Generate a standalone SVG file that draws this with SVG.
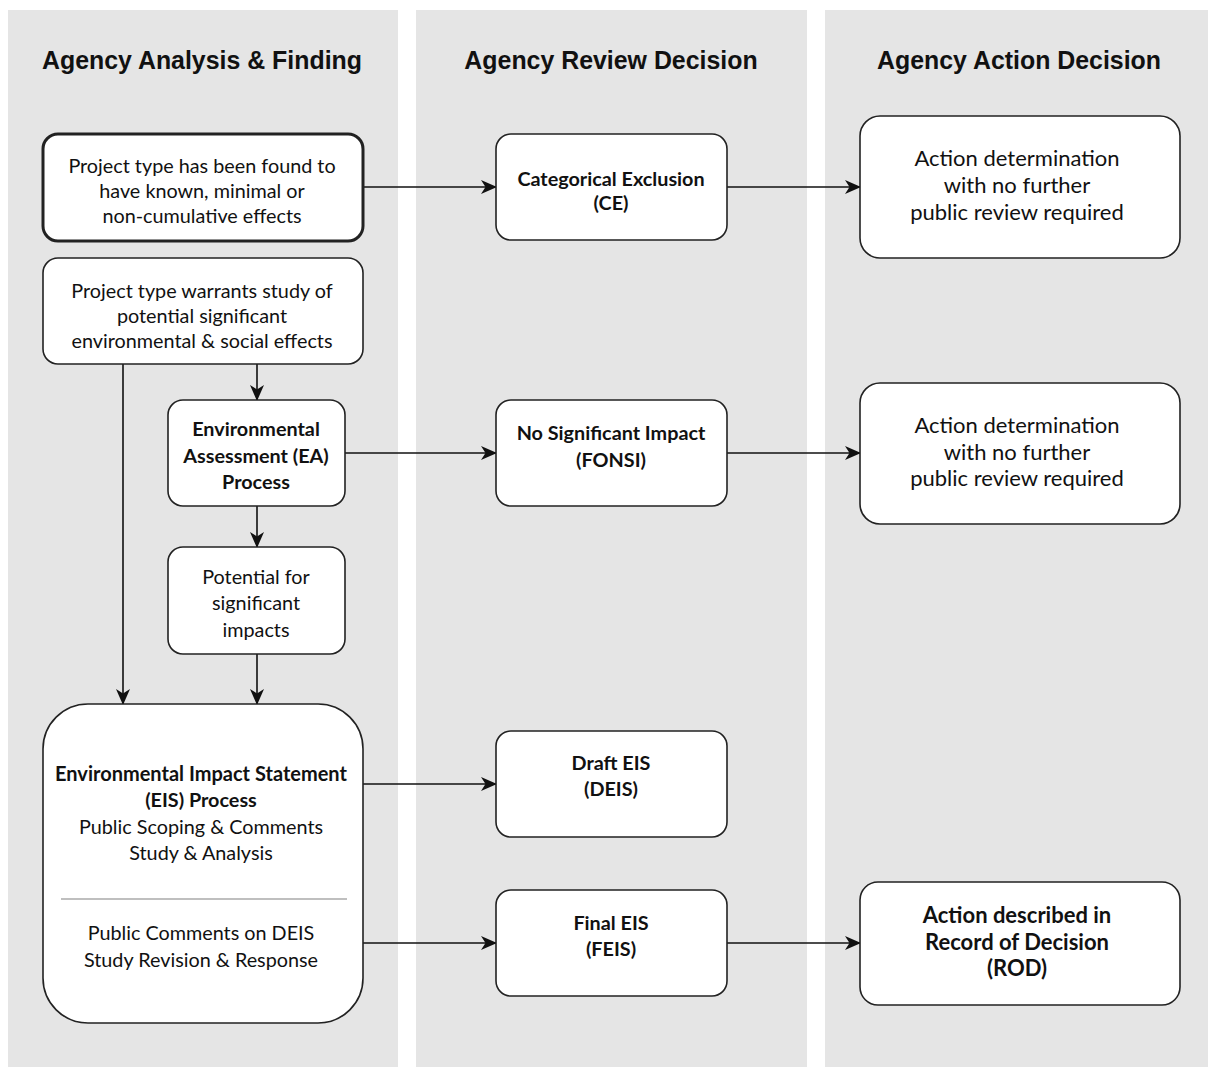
<svg xmlns="http://www.w3.org/2000/svg" width="1208" height="1067" viewBox="0 0 1208 1067">
<style>
.lane{fill:#e5e5e5;}
.hdr{font-family:"Liberation Sans",Arial,sans-serif;font-weight:bold;font-size:24.9px;fill:#111;text-anchor:middle;}
.box{fill:#fff;stroke:#222;stroke-width:1.6;}
.thick{stroke-width:3;}
.t{font-family:Lato,"Open Sans",sans-serif;font-size:19.8px;fill:#111;text-anchor:middle;dominant-baseline:central;}
.b{font-weight:bold;}
.big{font-size:22px;}
.con{stroke:#111;stroke-width:1.6;fill:none;}
</style>
<defs>
<marker id="ah" viewBox="0 0 16 14" refX="15" refY="7" markerWidth="16" markerHeight="14" markerUnits="userSpaceOnUse" orient="auto">
<path d="M0,0 L16,7 L0,14 L4.5,7 Z" fill="#111"/>
</marker>
</defs>
<rect width="1208" height="1067" fill="#fff"/>
<rect class="lane" x="8" y="10" width="390" height="1057"/>
<rect class="lane" x="416" y="10" width="391" height="1057"/>
<rect class="lane" x="825" y="10" width="383" height="1057"/>
<text class="hdr" x="202" y="69">Agency Analysis &amp; Finding</text>
<text class="hdr" x="611" y="69">Agency Review Decision</text>
<text class="hdr" x="1019" y="69">Agency Action Decision</text>

<g id="connectors">
<line class="con" x1="363" y1="187" x2="496" y2="187" marker-end="url(#ah)"/>
<line class="con" x1="727" y1="187" x2="860" y2="187" marker-end="url(#ah)"/>
<line class="con" x1="257" y1="364" x2="257" y2="400" marker-end="url(#ah)"/>
<line class="con" x1="123" y1="364" x2="123" y2="704" marker-end="url(#ah)"/>
<line class="con" x1="345" y1="453" x2="496" y2="453" marker-end="url(#ah)"/>
<line class="con" x1="727" y1="453" x2="860" y2="453" marker-end="url(#ah)"/>
<line class="con" x1="257" y1="506" x2="257" y2="547" marker-end="url(#ah)"/>
<line class="con" x1="257" y1="654" x2="257" y2="704" marker-end="url(#ah)"/>
<line class="con" x1="363" y1="784" x2="496" y2="784" marker-end="url(#ah)"/>
<line class="con" x1="363" y1="943" x2="496" y2="943" marker-end="url(#ah)"/>
<line class="con" x1="727" y1="943" x2="860" y2="943" marker-end="url(#ah)"/>
</g>

<g id="known-effects">
<rect class="box thick" x="43" y="134" width="320" height="107" rx="15"/>
<text class="t" x="202" y="165">Project type has been found to</text>
<text class="t" x="202" y="190">have known, minimal or</text>
<text class="t" x="202" y="215">non-cumulative effects</text>
</g>
<g id="warrants-study">
<rect class="box" x="43" y="258" width="320" height="106" rx="15"/>
<text class="t" x="202" y="290">Project type warrants study of</text>
<text class="t" x="202" y="315">potential significant</text>
<text class="t" x="202" y="340">environmental &amp; social effects</text>
</g>
<g id="ea-process">
<rect class="box" x="168" y="400" width="177" height="106" rx="15"/>
<text class="t b" x="256" y="428">Environmental</text>
<text class="t b" x="256" y="455">Assessment (EA)</text>
<text class="t b" x="256" y="481">Process</text>
</g>
<g id="potential-impacts">
<rect class="box" x="168" y="547" width="177" height="107" rx="15"/>
<text class="t" x="256" y="576">Potential for</text>
<text class="t" x="256" y="602">significant</text>
<text class="t" x="256" y="629">impacts</text>
</g>
<g id="eis-process">
<rect class="box" x="43" y="704" width="320" height="319" rx="45"/>
<text class="t b" x="201" y="773" style="font-size:20px">Environmental Impact Statement</text>
<text class="t b" x="201" y="799">(EIS) Process</text>
<text class="t" x="201" y="826">Public Scoping &amp; Comments</text>
<text class="t" x="201" y="852">Study &amp; Analysis</text>
<line x1="61" y1="899" x2="347" y2="899" stroke="#aaa" stroke-width="1.5"/>
<text class="t" x="201" y="932">Public Comments on DEIS</text>
<text class="t" x="201" y="959">Study Revision &amp; Response</text>
</g>
<g id="ce">
<rect class="box" x="496" y="134" width="231" height="106" rx="15"/>
<text class="t b" x="611" y="178">Categorical Exclusion</text>
<text class="t b" x="611" y="202">(CE)</text>
</g>
<g id="fonsi">
<rect class="box" x="496" y="400" width="231" height="106" rx="15"/>
<text class="t b" x="611" y="432">No Significant Impact</text>
<text class="t b" x="611" y="459">(FONSI)</text>
</g>
<g id="deis">
<rect class="box" x="496" y="731" width="231" height="106" rx="15"/>
<text class="t b" x="611" y="762">Draft EIS</text>
<text class="t b" x="611" y="788">(DEIS)</text>
</g>
<g id="feis">
<rect class="box" x="496" y="890" width="231" height="106" rx="15"/>
<text class="t b" x="611" y="922">Final EIS</text>
<text class="t b" x="611" y="948">(FEIS)</text>
</g>
<g id="action-ce">
<rect class="box" x="860" y="116" width="320" height="142" rx="20"/>
<text class="t big" x="1017" y="157">Action determination</text>
<text class="t big" x="1017" y="184">with no further</text>
<text class="t big" x="1017" y="211">public review required</text>
</g>
<g id="action-fonsi">
<rect class="box" x="860" y="383" width="320" height="141" rx="20"/>
<text class="t big" x="1017" y="424">Action determination</text>
<text class="t big" x="1017" y="451">with no further</text>
<text class="t big" x="1017" y="477">public review required</text>
</g>
<g id="rod">
<rect class="box" x="860" y="882" width="320" height="123" rx="18"/>
<text class="t b big" x="1017" y="914">Action described in</text>
<text class="t b big" x="1017" y="941">Record of Decision</text>
<text class="t b big" x="1017" y="967">(ROD)</text>
</g>
</svg>
